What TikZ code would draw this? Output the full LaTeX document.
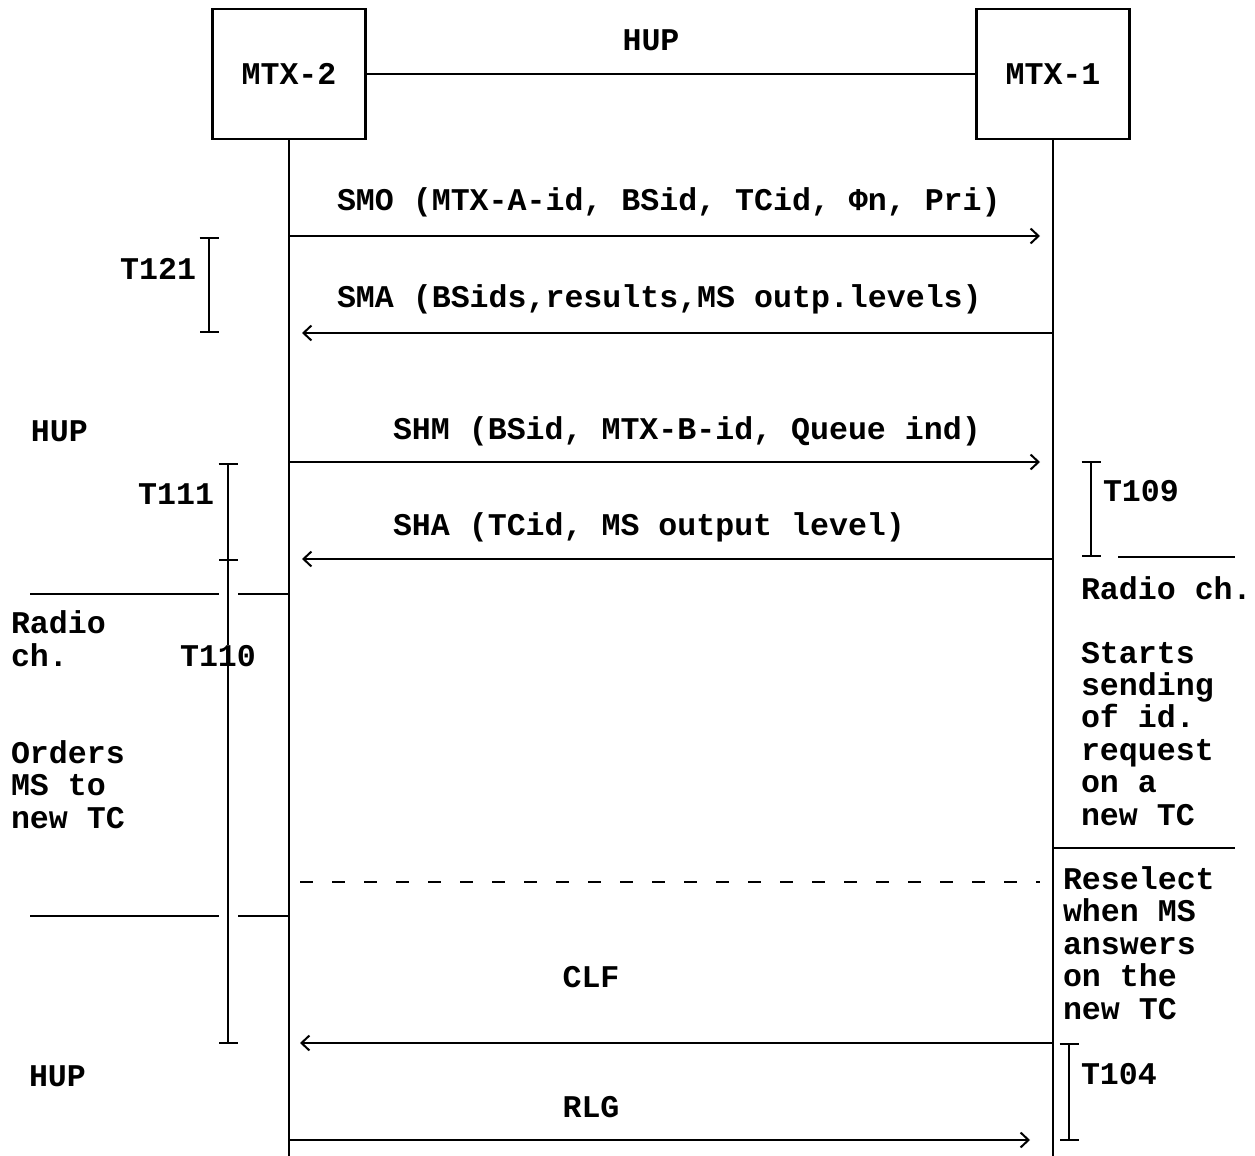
\documentclass[tikz,border=0pt]{standalone}
\usepackage{fontspec}
\setmonofont{Liberation Mono}
\usetikzlibrary{arrows.meta}

\begin{document}
\begin{tikzpicture}[x=0.5pt, y=-0.5pt, line width=1pt,
  txt/.style={inner sep=0pt, font=\ttfamily\bfseries\fontsize{15.8}{16.2}\selectfont},
  box/.style={txt, draw, line width=1.4pt, minimum width=76.5pt, minimum height=65pt},
  msg/.style={-{Straight Barb[length=4pt,width=7.5pt]}},
  timer/.style={{Bar[width=9.5pt]}-{Bar[width=9.5pt]}},
  multi/.style={txt, align=left, anchor=base west}]
  \useasboundingbox (0,0) rectangle (1255,1156);

  % exchanges and lifelines
  \node[box] (mtxtwo) at (289,74) {MTX-2};
  \node[box] (mtxone) at (1053,74) {MTX-1};
  \draw (mtxtwo) -- (mtxone);
  \node[txt, anchor=base] (hup) at (651,51) {HUP};
  \coordinate (endtwo) at (289,1156);
  \coordinate (endone) at (1053,1156);
  \draw (mtxtwo) -- (endtwo);
  \draw (mtxone) -- (endone);

  % messages
  \coordinate (smoa) at (289,236);  \coordinate (smob) at (1040,236);
  \coordinate (smaa) at (1053,333); \coordinate (smab) at (302,333);
  \coordinate (shma) at (289,462);  \coordinate (shmb) at (1040,462);
  \coordinate (shaa) at (1053,559); \coordinate (shab) at (302,559);
  \coordinate (dasha) at (300,882); \coordinate (dashb) at (1040,882);
  \coordinate (clfa) at (1053,1043); \coordinate (clfb) at (300,1043);
  \coordinate (rlga) at (289,1140); \coordinate (rlgb) at (1030,1140);
  \draw[msg] (smoa) -- (smob);
  \draw[msg] (smaa) -- (smab);
  \draw[msg] (shma) -- (shmb);
  \draw[msg] (shaa) -- (shab);
  \draw[dash pattern=on 6.5pt off 9.5pt] (dasha) -- (dashb);
  \draw[msg] (clfa) -- (clfb);
  \draw[msg] (rlga) -- (rlgb);
  \node[txt, anchor=base west] (smo) at (336,211) {SMO (MTX-A-id, BSid, TCid, Φn, Pri)};
  \node[txt, anchor=base west] (sma) at (336,307) {SMA (BSids,results,MS outp.levels)};
  \node[txt, anchor=base west] (shm) at (392,439) {SHM (BSid, MTX-B-id, Queue ind)};
  \node[txt, anchor=base west] (sha) at (392,535) {SHA (TCid, MS output level)};
  \node[txt, anchor=base] (clf) at (591,987) {CLF};
  \node[txt, anchor=base] (rlg) at (591,1117) {RLG};

  % timers
  \coordinate (tonea) at (209,237); \coordinate (toneb) at (209,333);
  \coordinate (ttwoa) at (228,463); \coordinate (ttwob) at (228,1044);
  \coordinate (tmida) at (219,560); \coordinate (tmidb) at (238,560);
  \coordinate (tthra) at (1091,461); \coordinate (tthrb) at (1091,557);
  \coordinate (tfoua) at (1069,1043); \coordinate (tfoub) at (1069,1141);
  \draw[timer] (tonea) -- (toneb);
  \draw[timer] (ttwoa) -- (ttwob);
  \draw (tmida) -- (tmidb);
  \draw[timer] (tthra) -- (tthrb);
  \draw[timer] (tfoua) -- (tfoub);
  \node[txt, anchor=base east] (tonetwoone) at (197,279) {T121};
  \node[txt, anchor=base east] (toneoneone) at (215,504) {T111};
  \node[txt, anchor=base, fill=white] (toneonezero) at (218,666) {T110};
  \node[txt, anchor=base west] (tonezeronine) at (1102,502) {T109};
  \node[txt, anchor=base west] (tonezerofour) at (1080,1084) {T104};

  % radio channel marks
  \coordinate (rla) at (30,594);  \coordinate (rlb) at (219,594);
  \coordinate (rlc) at (238,594); \coordinate (rld) at (289,594);
  \coordinate (rle) at (30,916);  \coordinate (rlf) at (219,916);
  \coordinate (rlg) at (238,916); \coordinate (rlh) at (289,916);
  \coordinate (rra) at (1118,557); \coordinate (rrb) at (1235,557);
  \coordinate (rrc) at (1053,848); \coordinate (rrd) at (1235,848);
  \draw (rla) -- (rlb);  \draw (rlc) -- (rld);
  \draw (rle) -- (rlf);  \draw (rlg) -- (rlh);
  \draw (rra) -- (rrb);
  \draw (rrc) -- (rrd);

  % side notes (base is the last line)
  \node[txt, anchor=base west] (hupa) at (30,441) {HUP};
  \node[txt, anchor=base west] (hupb) at (28,1086) {HUP};
  \node[multi] (radiol) at (10,666) {Radio\\ch.};
  \node[multi] (orders) at (10,828) {Orders\\MS to\\new TC};
  \node[txt, anchor=base west] (radior) at (1080,599) {Radio ch.};
  \node[multi] (starts) at (1080,825) {Starts\\sending\\of id.\\request\\on a\\new TC};
  \node[multi] (reselect) at (1062,1019) {Reselect\\when MS\\answers\\on the\\new TC};
\end{tikzpicture}
\end{document}
